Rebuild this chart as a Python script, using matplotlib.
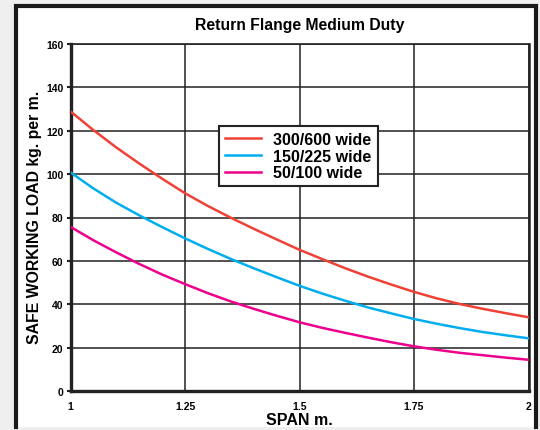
import matplotlib.pyplot as plt
from matplotlib.patches import Rectangle
from matplotlib.lines import Line2D

span = [1.00, 1.05, 1.10, 1.15, 1.20, 1.25, 1.30, 1.35, 1.40, 1.45, 1.50,
        1.55, 1.60, 1.65, 1.70, 1.75, 1.80, 1.85, 1.90, 1.95, 2.00]
load_300_600 = [128.9, 120.3, 112.3, 104.9, 97.9, 91.2, 85.3, 79.9, 74.8, 69.9, 65.1,
                60.8, 56.6, 52.7, 49.1, 45.7, 42.7, 40.1, 37.9, 35.9, 34.0]
load_150_225 = [100.8, 93.4, 86.8, 81.0, 75.6, 70.4, 65.5, 60.9, 56.6, 52.5, 48.5,
                44.9, 41.6, 38.5, 35.8, 33.2, 31.0, 29.0, 27.2, 25.7, 24.3]
load_50_100 = [75.7, 69.5, 63.9, 58.6, 53.7, 49.3, 45.1, 41.3, 37.9, 34.7, 31.7,
               29.1, 26.8, 24.6, 22.5, 20.6, 19.0, 17.6, 16.5, 15.4, 14.4]

x_ticks = [1, 1.25, 1.5, 1.75, 2]
x_tick_labels = ["1", "1.25", "1.5", "1.75", "2"]
y_ticks = [0, 20, 40, 60, 80, 100, 120, 140, 160]

plt.rcParams["font.family"] = ["Liberation Sans", "DejaVu Sans"]
plt.rcParams["font.weight"] = "bold"

W, H = 540, 431
fig = plt.figure(figsize=(W / 100, H / 100), dpi=100, facecolor="#efefef")

# outer frame (open at the bottom)
fig.patches.append(Rectangle((14 / W, 3 / H), (537 - 14) / W, 1 - 8 / H,
                             transform=fig.transFigure, facecolor="white",
                             edgecolor="none", zorder=-5))
fig.add_artist(Line2D([16 / W, 16 / W, 535.5 / W, 535.5 / W],
                      [3 / H, 1 - 6.5 / H, 1 - 6.5 / H, 3 / H],
                      transform=fig.transFigure, color="#1a1a1a", lw=3,
                      solid_joinstyle="miter", zorder=-4))

ax = fig.add_axes([70.5 / W, 1 - 392 / H, (528.5 - 70.5) / W, (392 - 45) / H])
ax.set_zorder(2)
ax.set_facecolor("white")

ax.plot(span, load_300_600, color="#ef4136", lw=1.8, label="300/600 wide", zorder=3)
ax.plot(span, load_150_225, color="#00aeef", lw=1.8, label="150/225 wide", zorder=3)
ax.plot(span, load_50_100, color="#ec008c", lw=1.8, label="50/100 wide", zorder=3)

ax.set_xlim(1, 2)
ax.set_ylim(0, 160)
ax.set_xticks(x_ticks)
ax.set_xticklabels(x_tick_labels)
ax.set_yticks(y_ticks)
ax.grid(True, color="#222222", lw=1.1)
ax.tick_params(axis="both", labelsize=7.5, width=1.5, color="#222222")
ax.tick_params(axis="x", length=0, pad=7)
ax.tick_params(axis="y", length=3, pad=2)
for side in ["left", "bottom"]:
    ax.spines[side].set_linewidth(2.4)
ax.spines["top"].set_linewidth(1.2)
ax.spines["right"].set_linewidth(1.8)
for s in ax.spines.values():
    s.set_color("#222222")

ax.set_title("Return Flange Medium Duty", fontsize=11.3, fontweight="bold", pad=11)
ax.set_xlabel("SPAN m.", fontsize=11.5, fontweight="bold", labelpad=1)
fig.text(35 / W, 1 - 217 / H, "SAFE WORKING LOAD kg. per m.", rotation=90,
         ha="center", va="center", fontsize=11.4, fontweight="bold")

leg = ax.legend(loc="center", bbox_to_anchor=(0.497, 0.677),
                frameon=True, fancybox=False, handlelength=2.3, handletextpad=0.75,
                borderpad=0.38, labelspacing=0.1, borderaxespad=0,
                prop={"weight": "bold", "size": 11.5})
leg.get_frame().set_edgecolor("#222222")
leg.get_frame().set_linewidth(1.5)
leg.get_frame().set_alpha(1)

fig.savefig("out.png", dpi=100, facecolor=fig.get_facecolor())
